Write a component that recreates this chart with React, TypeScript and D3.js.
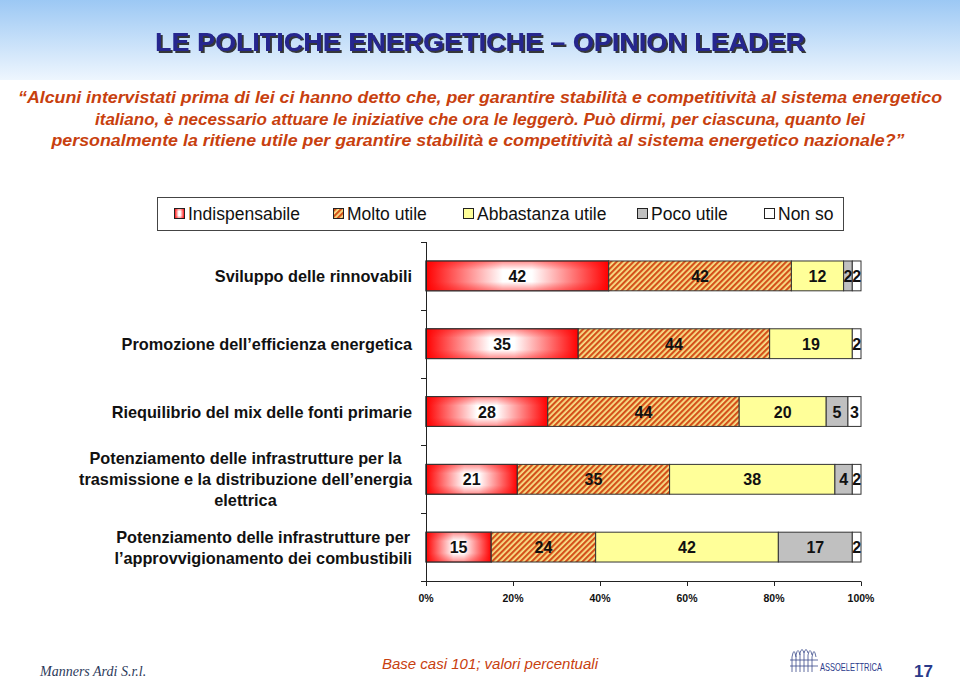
import React, { useEffect, useRef } from "react";
import * as d3 from "d3";

const categories = [
  ["Sviluppo delle rinnovabili"],
  ["Promozione dell\u2019efficienza energetica"],
  ["Riequilibrio del mix delle fonti primarie"],
  ["Potenziamento delle infrastrutture per la", "trasmissione e la distribuzione dell\u2019energia", "elettrica"],
  ["Potenziamento delle infrastrutture per", "l\u2019approvvigionamento dei combustibili"],
];
const seriesNames = ["Indispensabile", "Molto utile", "Abbastanza utile", "Poco utile", "Non so"];
const indispensabile = [42, 35, 28, 21, 15];
const moltoUtile = [42, 44, 44, 35, 24];
const abbastanzaUtile = [12, 19, 20, 38, 42];
const pocoUtile = [2, 0, 5, 4, 17];
const nonSo = [2, 2, 3, 2, 2];
const xTicks = [0, 20, 40, 60, 80, 100];

const titleText = "LE POLITICHE ENERGETICHE \u2013 OPINION LEADER";
const questionLines = [
  "\u201CAlcuni intervistati prima di lei ci hanno detto che, per garantire stabilit\u00E0 e competitivit\u00E0 al sistema energetico",
  "italiano, \u00E8 necessario attuare le iniziative che ora le legger\u00F2. Pu\u00F2 dirmi, per ciascuna, quanto lei",
  "personalmente la ritiene utile per garantire stabilit\u00E0 e competitivit\u00E0 al sistema energetico nazionale?\u201D",
];
const footerNote = "Base casi 101; valori percentuali";

export default function App() {
  const ref = useRef<SVGSVGElement | null>(null);

  useEffect(() => {
    document.body.style.margin = "0";
    const svg = d3.select(ref.current);
    svg.selectAll("*").remove();
    const W = 960, H = 681;
    const font = "'Liberation Sans', Arial, sans-serif";

    const defs = svg.append("defs");
    const bg = defs.append("linearGradient").attr("id", "bgGrad").attr("x1", 0).attr("y1", 0).attr("x2", 0).attr("y2", 1);
    bg.append("stop").attr("offset", "0%").attr("stop-color", "#9cc8f4");
    bg.append("stop").attr("offset", "100%").attr("stop-color", "#eef6fe");

    const rg = defs.append("linearGradient").attr("id", "redGrad").attr("x1", 0).attr("y1", 0).attr("x2", 1).attr("y2", 0);
    rg.append("stop").attr("offset", "0%").attr("stop-color", "#ff0000");
    rg.append("stop").attr("offset", "42%").attr("stop-color", "#ffffff");
    rg.append("stop").attr("offset", "58%").attr("stop-color", "#ffffff");
    rg.append("stop").attr("offset", "100%").attr("stop-color", "#ff0000");
    const vg = defs.append("linearGradient").attr("id", "redV").attr("x1", 0).attr("y1", 0).attr("x2", 0).attr("y2", 1);
    vg.append("stop").attr("offset", "0%").attr("stop-color", "#ff0000").attr("stop-opacity", 0.45);
    vg.append("stop").attr("offset", "30%").attr("stop-color", "#ff0000").attr("stop-opacity", 0);
    vg.append("stop").attr("offset", "70%").attr("stop-color", "#ff0000").attr("stop-opacity", 0);
    vg.append("stop").attr("offset", "100%").attr("stop-color", "#ff0000").attr("stop-opacity", 0.45);

    const pat = defs.append("pattern").attr("id", "hatch").attr("patternUnits", "userSpaceOnUse")
      .attr("width", 4).attr("height", 4).attr("patternTransform", "rotate(45)");
    pat.append("rect").attr("width", 4).attr("height", 4).attr("fill", "#f9e38a");
    pat.append("rect").attr("width", 2.2).attr("height", 4).attr("fill", "#d4501a");

    const shadow = defs.append("filter").attr("id", "tshadow").attr("x", "-5%").attr("y", "-20%").attr("width", "110%").attr("height", "150%");
    shadow.append("feDropShadow").attr("dx", 2).attr("dy", 2).attr("stdDeviation", 0.4)
      .attr("flood-color", "#222").attr("flood-opacity", 0.9);

    const fills = ["url(#redGrad)", "url(#hatch)", "#ffff99", "#c0c0c0", "#ffffff"];

    svg.append("rect").attr("x", 0).attr("y", 0).attr("width", W).attr("height", H).attr("fill", "#fff");
    svg.append("rect").attr("x", 0).attr("y", 0).attr("width", W).attr("height", 80).attr("fill", "url(#bgGrad)");

    // Title
    svg.append("text").attr("x", 480).attr("y", 51).attr("text-anchor", "middle")
      .attr("font-family", font).attr("font-weight", "bold").attr("font-size", 25)
      .attr("textLength", 650).attr("lengthAdjust", "spacingAndGlyphs")
      .attr("filter", "url(#tshadow)")
      .attr("fill", "#25258e").text(titleText);

    // Question
    const qWidths = [924, 770, 853];
    const qx = [480, 480, 478];
    questionLines.forEach((l, i) => {
      svg.append("text").attr("x", qx[i]).attr("y", 103 + i * 21.5).attr("text-anchor", "middle")
        .attr("font-family", font).attr("font-weight", "bold").attr("font-style", "italic").attr("font-size", 16)
        .attr("textLength", qWidths[i]).attr("lengthAdjust", "spacingAndGlyphs")
        .attr("fill", "#c8400e").text(l);
    });

    // Legend
    svg.append("rect").attr("x", 157.5).attr("y", 197.5).attr("width", 686).attr("height", 33)
      .attr("fill", "#fff").attr("stroke", "#444");
    const legX = [174, 333, 463, 637, 764];
    seriesNames.forEach((n, i) => {
      const sw = svg.append("g");
      sw.append("rect").attr("x", legX[i] + 0.5).attr("y", 208.5).attr("width", 10).attr("height", 10)
        .attr("fill", fills[i]).attr("stroke", "#222");
      if (i === 0) {
        sw.append("rect").attr("x", legX[i] + 0.5).attr("y", 208.5).attr("width", 10).attr("height", 10)
          .attr("fill", "url(#redV)").attr("stroke", "#222");
      }
      svg.append("text").attr("x", legX[i] + 14).attr("y", 220).attr("font-family", font)
        .attr("font-size", 17.5).attr("fill", "#111").text(n);
    });

    // Chart
    const x = d3.scaleLinear().domain([0, 100]).range([426, 861]);
    const y = d3.scaleBand().domain(categories.map((_, i) => String(i))).range([242, 581]).paddingInner(0.56).paddingOuter(0.28);
    const series = [indispensabile, moltoUtile, abbastanzaUtile, pocoUtile, nonSo];
    const g = svg.append("g");

    categories.forEach((cat, ci) => {
      let acc = 0;
      const by = y(String(ci))!;
      series.forEach((s, si) => {
        const v = s[ci];
        if (!v) return;
        const x0 = x(acc), x1 = x(acc + v);
        g.append("rect").attr("x", x0).attr("y", by).attr("width", x1 - x0).attr("height", y.bandwidth())
          .attr("fill", fills[si]).attr("stroke", "#333").attr("stroke-width", 1);
        if (si === 0) {
          g.append("rect").attr("x", x0).attr("y", by).attr("width", x1 - x0).attr("height", y.bandwidth())
            .attr("fill", "url(#redV)").attr("stroke", "#333").attr("stroke-width", 1);
        }
        g.append("text").attr("x", (x0 + x1) / 2).attr("y", by + y.bandwidth() / 2 + 6)
          .attr("text-anchor", "middle").attr("font-family", font).attr("font-weight", "bold")
          .attr("font-size", 16).attr("fill", "#111").text(String(v));
        acc += v;
      });
      // label
      const cy = by + y.bandwidth() / 2;
      const lh = 21;
      const tg = svg.append("g");
      const texts = cat.map((l, li) =>
        tg.append("text").attr("y", cy + 6 + (li - (cat.length - 1) / 2) * lh)
          .attr("font-family", font).attr("font-weight", "bold").attr("font-size", 16.3)
          .attr("fill", "#111").attr("text-anchor", "middle").text(l)
      );
      const widths = texts.map((t) => (t.node() as SVGTextElement).getComputedTextLength());
      const mw = Math.max(...widths);
      const cx = 412 - mw / 2;
      texts.forEach((t) => t.attr("x", cx));
    });

    // axes
    const axG = svg.append("g").attr("stroke", "#222").attr("stroke-width", 1);
    axG.append("line").attr("x1", 426.5).attr("x2", 426.5).attr("y1", 242).attr("y2", 581.5);
    const bounds = d3.range(categories.length + 1).map((i) => 242 + i * (581 - 242) / categories.length);
    bounds.forEach((b) => axG.append("line").attr("x1", 421).attr("x2", 426.5).attr("y1", Math.round(b) + 0.5).attr("y2", Math.round(b) + 0.5));
    axG.append("line").attr("x1", 426).attr("x2", 861).attr("y1", 581.5).attr("y2", 581.5);
    xTicks.forEach((t) => {
      axG.append("line").attr("x1", Math.round(x(t)) + 0.5).attr("x2", Math.round(x(t)) + 0.5).attr("y1", 581.5).attr("y2", 586);
      svg.append("text").attr("x", x(t)).attr("y", 602).attr("text-anchor", "middle")
        .attr("font-family", font).attr("font-weight", "bold").attr("font-size", 10.5).attr("fill", "#111").text(`${t}%`);
    });

    // Footer
    svg.append("text").attr("x", 40).attr("y", 676).attr("font-family", "'Liberation Serif', serif")
      .attr("font-style", "italic").attr("font-size", 14).attr("fill", "#2c3a5a").text("Manners Ardi S.r.l.");
    svg.append("text").attr("x", 490).attr("y", 669).attr("text-anchor", "middle").attr("font-family", font)
      .attr("font-style", "italic").attr("font-size", 15).attr("fill", "#c8400e").text(footerNote);
    // logo icon
    const lg = svg.append("g").attr("stroke", "#3a4a8a").attr("fill", "none").attr("stroke-width", 0.8);
    for (let i = 0; i < 6; i++) {
      lg.append("path").attr("d", `M${792 + i * 4},${672} L${792 + i * 4},${652 + Math.abs(i - 2.5) * 2} Q${794 + i * 4},${646} ${796 + i * 4},${652 + Math.abs(i - 2.5) * 2}`);
    }
    lg.append("line").attr("x1", 790).attr("x2", 818).attr("y1", 660).attr("y2", 660);
    lg.append("line").attr("x1", 790).attr("x2", 818).attr("y1", 666).attr("y2", 666);
    svg.append("text").attr("x", 820).attr("y", 671).attr("font-family", font).attr("font-size", 11)
      .attr("fill", "#2a3a8a").attr("textLength", 62).attr("lengthAdjust", "spacingAndGlyphs").text("ASSOELETTRICA");
    svg.append("text").attr("x", 914).attr("y", 677).attr("font-family", font).attr("font-weight", "bold")
      .attr("font-size", 17).attr("fill", "#2a3a8a").text("17");
  }, []);

  return <svg ref={ref} width={960} height={681} style={{ display: "block" }} />;
}
